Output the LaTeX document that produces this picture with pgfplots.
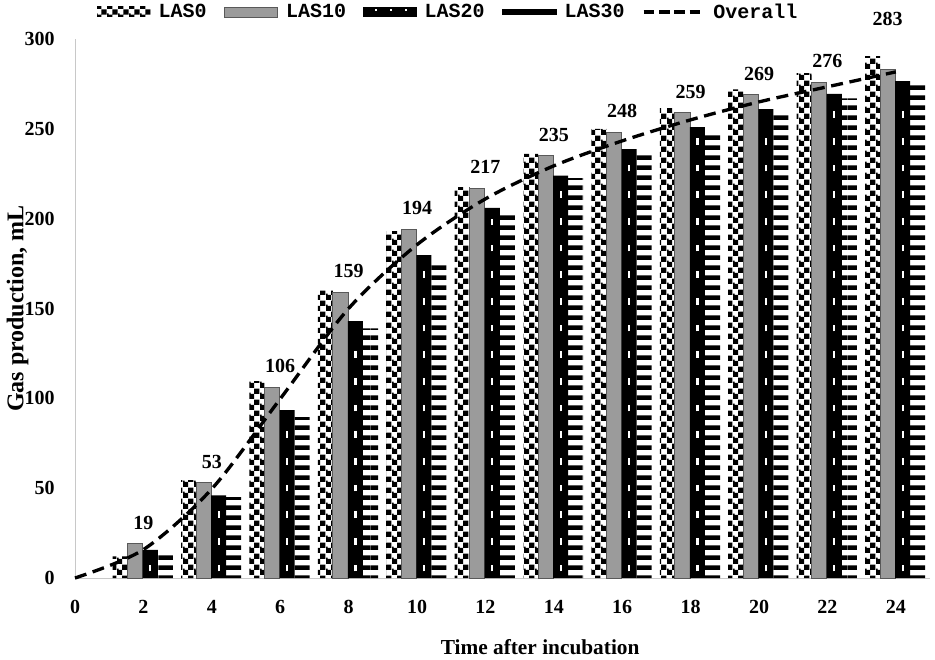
\documentclass[border=0pt]{standalone}
\usepackage{fontspec}
\setmainfont{Liberation Serif}
\newfontfamily\legfont{Liberation Mono}
\usepackage{pgfplots}
\pgfplotsset{compat=1.18}
\usetikzlibrary{patterns}

\pgfdeclarepatternformonly{bigchecker}{\pgfpointorigin}{\pgfqpoint{8pt}{8pt}}{\pgfqpoint{8pt}{8pt}}{%
 \pgfpathrectangle{\pgfpointorigin}{\pgfqpoint{4pt}{4pt}}%
 \pgfpathrectangle{\pgfqpoint{4pt}{4pt}}{\pgfqpoint{4pt}{4pt}}%
 \pgfpathrectangle{\pgfqpoint{0pt}{3pt}}{\pgfqpoint{1.2pt}{2pt}}%
 \pgfusepath{fill}}
\pgfdeclarepatternformonly{hstripes}{\pgfpointorigin}{\pgfqpoint{40pt}{7.5pt}}{\pgfqpoint{40pt}{7.5pt}}{%
 \pgfpathrectangle{\pgfpointorigin}{\pgfqpoint{40pt}{3.9pt}}%
 \pgfusepath{fill}}

\definecolor{barg}{RGB}{155,155,155}
\definecolor{axgray}{RGB}{200,200,200}

\begin{document}
\begin{tikzpicture}
\begin{axis}[
  scale only axis, width=641.25pt, height=404.25pt,
  xmin=0, xmax=25, ymin=0, ymax=300,
  axis x line=bottom, axis y line=left,
  axis line style={-, draw=axgray, line width=0.75pt},
  xtick={0,2,4,6,8,10,12,14,16,18,20,22,24},
  xticklabels={0,2,4,6,8,10,12,14,16,18,20,22,24},
  ytick={0,50,100,150,200,250,300},
  yticklabels={0,50,100,150,200,250,300},
  major tick length=0pt,
  tick label style={font=\fontsize{15}{17}\selectfont\bfseries, inner sep=0pt},
  xticklabel style={anchor=center, yshift=-21.4pt},
  yticklabel style={anchor=east, xshift=-15pt},
  xlabel={Time after incubation},
  xlabel style={font=\fontsize{16}{18}\selectfont\bfseries, at={(axis description cs:0.544,-0.1286)}, anchor=center, inner sep=0pt},
  ylabel={Gas production, mL},
  ylabel style={font=\fontsize{18}{20}\selectfont\bfseries, at={(axis description cs:-0.0672,0.5)}, anchor=center, inner sep=0pt},
  legend style={at={(axis description cs:0.0257,1)}, anchor=west, yshift=20.25pt,
    draw=none, fill=none, inner sep=0pt,
    font=\legfont\bfseries\fontsize{15}{17}\selectfont,
    /tikz/every even column/.append style={column sep=13pt},
    /tikz/every odd column/.append style={column sep=6pt},
    nodes={inner sep=0pt}},
  legend columns=5,
  legend cell align=left,
  clip=false,
  bar width=0.44,
]
% LAS0
\addplot[ybar, bar shift=-0.68, draw=none, pattern=bigchecker, pattern color=black,
  legend image code/.code={\fill[pattern=bigchecker] (0pt,-3.75pt) rectangle (40pt,3.75pt);}]
coordinates {(2,12) (4,54.5) (6,109.6) (8,160) (10,193) (12,217.6) (14,236) (16,250) (18,261.5) (20,272) (22,281) (24,290.5)};
\addlegendentry{LAS0}
% LAS10
\addplot[ybar, bar shift=-0.24, fill=barg, draw=black!65, line width=0.6pt,
  nodes near coords, point meta=explicit symbolic,
  every node near coord/.append style={font=\fontsize{15}{17}\selectfont\bfseries, anchor=south, yshift=10.5pt, inner sep=0pt, text=black},
  legend image code/.code={\filldraw[fill=barg, draw=black!65, line width=0.6pt] (0pt,-3.75pt) rectangle (40pt,3.75pt);}]
coordinates {(2,19) [19] (4,53) [53] (6,106) [106] (8,159) [159] (10,194) [194] (12,217) [217] (14,235) [235] (16,248) [248] (18,259) [259] (20,269) [269] (22,276) [276] (24,283) []};
\addlegendentry{LAS10}
% LAS20
\addplot[ybar, bar shift=0.20, fill=black, draw=none,
  legend image code/.code={\fill[black] (0pt,-3.75pt) rectangle (40pt,3.75pt);
    \fill[white] (9pt,0.5pt) rectangle (10.5pt,2.5pt);
    \fill[white] (20pt,0.5pt) rectangle (21.5pt,2.5pt);
    \fill[white] (31pt,0.5pt) rectangle (32.5pt,2.5pt);}]
coordinates {(2,15.6) (4,46) (6,93.5) (8,143) (10,179.7) (12,206) (14,224) (16,238.7) (18,251) (20,261) (22,269.4) (24,276.6)};
\addlegendentry{LAS20}
\addplot[ycomb, white, line width=1.6pt, dash pattern=on 0pt off 5pt on 5pt off 10pt, forget plot, mark=none]
coordinates {(2.20,10) (4.20,40) (6.20,87) (8.20,137) (10.20,173) (12.20,200) (14.20,218) (16.20,232) (18.20,245) (20.20,255) (22.20,263) (24.20,270)};
% LAS30
\addplot[ybar, bar shift=0.64, draw=none, pattern=hstripes, pattern color=black,
  legend image code/.code={\fill[black] (0pt,-2pt) rectangle (41pt,2pt);}]
coordinates {(2,14.5) (4,45) (6,89.6) (8,139) (10,175) (12,203.7) (14,222.6) (16,236.5) (18,248.7) (20,259) (22,267) (24,276.6)};
\addlegendentry{LAS30}
% Overall
\addplot[black, line width=2.5pt, dash pattern=on 9pt off 5pt, smooth, mark=none,
  legend image code/.code={\draw[line width=2.5pt, dash pattern=on 8pt off 3.5pt] (0pt,0pt) -- (45pt,0pt);}]
coordinates {(0,0) (2,15.8) (4,49.6) (6,99.7) (8,150) (10,185.5) (12,211) (14,229.4) (16,243.3) (18,255) (20,265) (22,273.4) (24,281.7)};
\addlegendentry{Overall}
% raised label for the last group
\addplot[only marks, mark=none, forget plot, nodes near coords, point meta=explicit symbolic,
  every node near coord/.append style={font=\fontsize{15}{17}\selectfont\bfseries, anchor=south, inner sep=0pt, text=black}]
coordinates {(23.76,307.5) [283]};
\end{axis}
\pgfresetboundingbox
\path[use as bounding box] ([shift={(-56.25pt,-61.5pt)}]current axis.south west) rectangle ([shift={(3.75pt,29.25pt)}]current axis.north east);
\end{tikzpicture}
\end{document}
